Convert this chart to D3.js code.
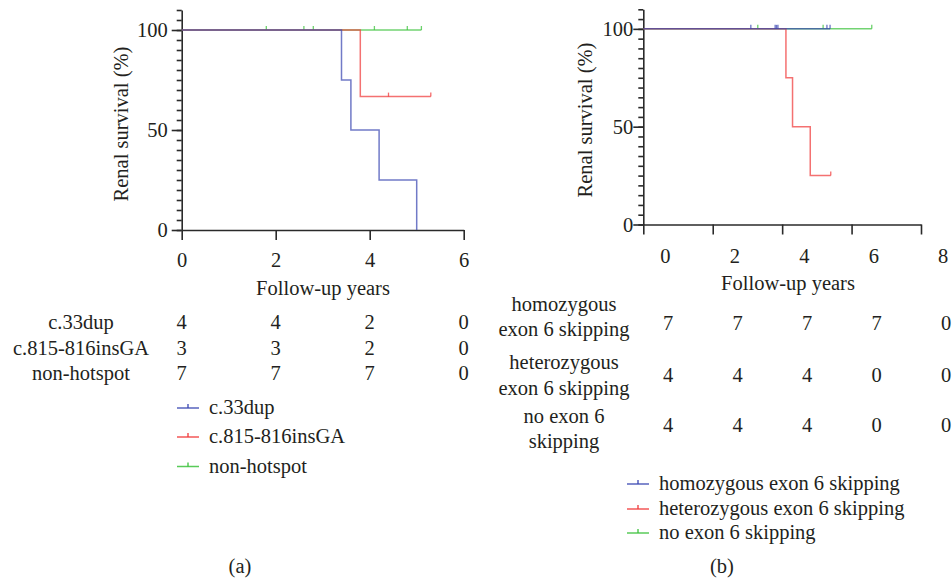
<!DOCTYPE html>
<html>
<head>
<meta charset="utf-8">
<script src="https://cdn.jsdelivr.net/npm/d3@7"></script>
<style>
body { margin: 0; background: #fff; }
svg text { font-family: "Liberation Serif", "Times New Roman", serif; font-size: 20.5px; fill: #231f20; }
.axis path, .axis line { stroke: #2a2a2a; stroke-width: 1.6; }
</style>
</head>
<body>
<svg id="chart" width="952" height="586"></svg>
<script>
// ---- panel (a) data
const groupsA = ["c.33dup", "c.815-816insGA", "non-hotspot"];
const dropTimesA = [[3.4, 3.6, 4.2, 5.0], [3.8], []];
const dropValuesA = [[75, 50, 25, 0], [66.7], []];
const endTimesA = [5.0, 5.3, 5.1];
const censorTimesA = [[], [4.4, 5.3], [1.8, 2.6, 2.8, 4.1, 4.8, 5.1]];
const riskYearsA = [0, 2, 4, 6];
const atRiskA = [[4, 4, 2, 0], [3, 3, 2, 0], [7, 7, 7, 0]];
const xTicksA = [0, 2, 4, 6];

// ---- panel (b) data
const groupsB = ["homozygous exon 6 skipping", "heterozygous exon 6 skipping", "no exon 6 skipping"];
const rowLabelsB = [["homozygous", "exon 6 skipping"], ["heterozygous", "exon 6 skipping"], ["no exon 6", "skipping"]];
const dropTimesB = [[], [3.48, 3.67, 4.18], []];
const dropValuesB = [[], [75, 50, 25], []];
const endTimesB = [4.75, 4.77, 5.95];
const censorTimesB = [[2.47, 3.17, 3.21, 3.25, 4.66, 4.75], [4.77], [2.67, 4.55, 5.95]];
const riskYearsB = [0, 2, 4, 6, 8];
const atRiskB = [[7, 7, 7, 7, 0], [4, 4, 4, 0, 0], [4, 4, 4, 0, 0]];
const xTicksB = [0, 2, 4, 6, 8];

const yTicks = [0, 50, 100];
const colors = ["#3a46b2", "#f03a3a", "#3cc23c"];

const svg = d3.select("#chart");
svg.append("rect").attr("width", 952).attr("height", 586).attr("fill", "#fff");

function survivalAt(drops, vals, t) {
    let s = 100;
    drops.forEach((d, i) => { if (d <= t) s = vals[i]; });
    return s;
}

function drawPanel(p) {
    const g = svg.append("g");
    const x0 = p.xAxisScale(0);   // curves start at the y axis

    // minor y ticks + axis line
    g.append("g").attr("class", "axis")
        .attr("transform", `translate(${x0},0)`)
        .call(d3.axisLeft(p.y).tickValues(d3.range(0, 111, 5)).tickSizeInner(5).tickSizeOuter(0).tickFormat(""));
    // major y ticks with labels
    const ya = g.append("g").attr("class", "axis")
        .attr("transform", `translate(${x0},0)`)
        .call(d3.axisLeft(p.y).tickValues(yTicks).tickSize(10).tickPadding(p.yPad).tickFormat(d3.format("d")));
    ya.select(".domain").remove();
    ya.selectAll("text").attr("font-size", null).attr("font-family", null);

    // x axis
    const xa = g.append("g").attr("class", "axis")
        .attr("transform", `translate(0,${p.y(0)})`)
        .call(d3.axisBottom(p.xAxisScale).tickValues(p.xTicks).tickSizeInner(10).tickSizeOuter(0)
            .tickPadding(p.xPad).tickFormat(d3.format("d")));
    xa.selectAll("text").attr("font-size", null).attr("font-family", null)
        .attr("dx", p.x(0) - p.xAxisScale(0));
    svg.selectAll(".axis text").style("fill", "#231f20");

    // axis titles
    g.append("text").attr("x", p.xTitle[0]).attr("y", p.xTitle[1])
        .attr("text-anchor", "middle").text("Follow-up years");
    g.append("text")
        .attr("transform", `translate(${p.yTitle[0]},${p.yTitle[1]}) rotate(-90)`)
        .attr("text-anchor", "middle").attr("dy", "0.35em").text("Renal survival (%)");

    // curves (last group first so the first group sits on top)
    const line = d3.line().x(d => d[0]).y(d => p.y(d[1])).curve(d3.curveStepAfter);
    d3.range(p.groups.length).reverse().forEach(i => {
        const pts = [[x0, 100]];
        p.drops[i].forEach((t, j) => pts.push([p.x(t), p.values[i][j]]));
        const last = pts[pts.length - 1][1];
        pts.push([p.x(p.ends[i]), last]);
        g.append("path").attr("d", line(pts))
            .attr("fill", "none").attr("stroke", colors[i])
            .attr("stroke-width", 1.5).attr("stroke-opacity", 0.72);
        g.selectAll(null).data(p.censors[i]).join("line")
            .attr("x1", t => p.x(t)).attr("x2", t => p.x(t))
            .attr("y1", t => p.y(survivalAt(p.drops[i], p.values[i], t)))
            .attr("y2", t => p.y(survivalAt(p.drops[i], p.values[i], t)) - 4)
            .attr("stroke", colors[i]).attr("stroke-width", 1.3).attr("stroke-opacity", 0.75);
    });

    // number-at-risk table
    p.rowLabels.forEach((lab, i) => {
        lab.forEach((s, k) => {
            g.append("text").attr("x", p.labelX).attr("y", p.labelY[i][k])
                .attr("text-anchor", "middle").text(s);
        });
        p.risk[i].forEach((v, j) => {
            g.append("text").attr("x", p.x(p.riskYears[j]) + p.numDx).attr("y", p.numY[i])
                .attr("text-anchor", "middle").text(v);
        });
    });

    // legend
    p.groups.forEach((name, i) => {
        const ly = p.legY[i];
        g.append("line").attr("x1", p.legX).attr("x2", p.legX + 22).attr("y1", ly).attr("y2", ly)
            .attr("stroke", colors[i]).attr("stroke-width", 1.5).attr("stroke-opacity", 0.85);
        g.append("line").attr("x1", p.legX + 11).attr("x2", p.legX + 11).attr("y1", ly).attr("y2", ly - 4)
            .attr("stroke", colors[i]).attr("stroke-width", 1.3);
        g.append("text").attr("x", p.legX + 32).attr("y", ly + 6).text(name);
    });

    g.append("text").attr("x", p.tag[0]).attr("y", p.tag[1]).attr("text-anchor", "middle").text(p.tagText);
}

// panel (a)
const xA = d3.scaleLinear().domain([0, 6]).range([181.7, 463.7]);
drawPanel({
    x: xA, xAxisScale: xA,
    y: d3.scaleLinear().domain([0, 110]).range([230, 10]),
    xTicks: xTicksA, yPad: 4, xPad: 12,
    xTitle: [323, 295], yTitle: [121, 124],
    groups: groupsA, drops: dropTimesA, values: dropValuesA, ends: endTimesA, censors: censorTimesA,
    rowLabels: groupsA.map(d => [d]), labelX: 81,
    labelY: [[329], [355], [380]], numY: [329, 355, 380], numDx: 0,
    risk: atRiskA, riskYears: riskYearsA,
    legX: 177, legY: [408, 437, 466.5],
    tag: [240, 573], tagText: "(a)"
});

// panel (b): tick marks sit left of their labels, as in the source figure
drawPanel({
    x: d3.scaleLinear().domain([0, 8]).range([665, 943]),
    xAxisScale: d3.scaleLinear().domain([0, 8]).range([643.3, 921]),
    y: d3.scaleLinear().domain([0, 110]).range([224.5, 9.3]),
    xTicks: xTicksB, yPad: 0, xPad: 13.5,
    xTitle: [788, 290], yTitle: [585, 120],
    groups: groupsB, drops: dropTimesB, values: dropValuesB, ends: endTimesB, censors: censorTimesB,
    rowLabels: rowLabelsB, labelX: 564,
    labelY: [[311, 336], [368.5, 394.5], [423, 448]], numY: [330, 382, 432], numDx: 3,
    risk: atRiskB, riskYears: riskYearsB,
    legX: 627, legY: [484, 509, 533],
    tag: [722, 573], tagText: "(b)"
});
</script>
</body>
</html>
